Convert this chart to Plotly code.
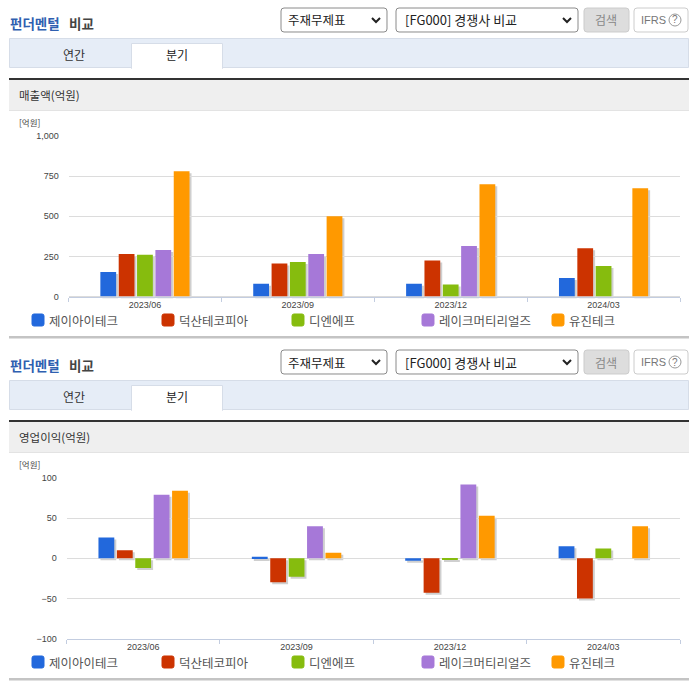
import plotly.graph_objects as go

W = 696
H = 684

quarters = ['2023/06', '2023/09', '2023/12', '2024/03']
companies = ['제이아이테크', '덕산테코피아', '디엔에프', '레이크머티리얼즈', '유진테크']
colors = ['#2268dc', '#cc3300', '#86bc0e', '#a678d8', '#ff9900']

sales_jai = [153, 80, 80, 115]
sales_duksan = [265, 205, 225, 300]
sales_dnf = [260, 215, 75, 190]
sales_lake = [290, 265, 315, None]
sales_eugene = [780, 500, 700, 675]

profit_jai = [26, 2, -3, 15]
profit_duksan = [10, -30, -43, -50]
profit_dnf = [-12, -23, -2, 12]
profit_lake = [79, 40, 92, None]
profit_eugene = [84, 7, 53, 40]

sales = [sales_jai, sales_duksan, sales_dnf, sales_lake, sales_eugene]
profit = [profit_jai, profit_duksan, profit_dnf, profit_lake, profit_eugene]

sales_ticks = [0, 250, 500, 750, 1000]
profit_ticks = [-100, -50, 0, 50, 100]

KR = 'Noto Sans CJK KR'
TICK = 'Liberation Sans'
SHADOW = '#cfcfcf'


def px(x):
    return x / W


def py(y):
    return 1 - y / H


fig = go.Figure()
shapes = []
notes = []


def box(x0, y0, x1, y1, fill, line=None, lw=1, layer='below'):
    shapes.append(dict(type='rect', xref='paper', yref='paper', x0=px(x0), x1=px(x1), y0=py(y0), y1=py(y1),
                       fillcolor=fill, line=dict(color=line, width=lw if line else 0), layer=layer))


def rounded(x0, y0, x1, y1, r, fill, line=None):
    pts = [('M', x0 + r, y0), ('L', x1 - r, y0), ('Q', x1, y0), ('', x1, y0 + r), ('L', x1, y1 - r), ('Q', x1, y1),
           ('', x1 - r, y1), ('L', x0 + r, y1), ('Q', x0, y1), ('', x0, y1 - r), ('L', x0, y0 + r), ('Q', x0, y0),
           ('', x0 + r, y0)]
    path = ' '.join(f'{c} {px(a):.5f} {py(b):.5f}' for c, a, b in pts) + ' Z'
    shapes.append(dict(type='path', xref='paper', yref='paper', path=path, fillcolor=fill,
                       line=dict(color=line or fill, width=1), layer='above'))


def text(x, y, s, size=12, color='#333333', anchor='left', family=KR):
    notes.append(dict(x=px(x), y=py(y), xref='paper', yref='paper', text=s, showarrow=False, xanchor=anchor,
                      yanchor='middle', font=dict(family=family, size=size, color=color)))


def chevron(x, y):
    path = f'M {px(x - 4):.5f} {py(y - 2):.5f} L {px(x):.5f} {py(y + 2):.5f} L {px(x + 4):.5f} {py(y - 2):.5f}'
    shapes.append(dict(type='path', xref='paper', yref='paper', path=path,
                       line=dict(color='#222222', width=2), layer='above'))


def panel(dy, label):
    text(8, 23 + dy, '<b>펀더멘털</b>', size=13.5, color='#2f5fb0')
    text(67, 23 + dy, '<b>비교</b>', size=13.5, color='#444444')
    rounded(281, 8 + dy, 387, 32 + dy, 3, '#ffffff', '#8a8a8a')
    text(286, 20 + dy, '주재무제표', size=12.5, color='#222222')
    chevron(376, 20 + dy)
    rounded(396, 8 + dy, 578, 32 + dy, 3, '#ffffff', '#8a8a8a')
    text(403, 20 + dy, '[FG000] 경쟁사 비교', size=13, color='#222222')
    chevron(567, 20 + dy)
    rounded(584, 8 + dy, 629, 32 + dy, 3, '#dddddd', '#cccccc')
    text(606, 20 + dy, '검색', size=12, color='#888888', anchor='center')
    rounded(634, 8 + dy, 688, 32 + dy, 3, '#ffffff', '#cccccc')
    text(639, 20 + dy, 'IFRS', size=11, color='#777777', family=TICK)
    text(675, 20 + dy, '?', size=10, color='#777777', anchor='center', family=TICK)
    shapes.append(dict(type='circle', xref='paper', yref='paper', x0=px(669), x1=px(681), y0=py(26 + dy),
                       y1=py(14 + dy), line=dict(color='#999999', width=1), layer='above'))

    box(9.5, 38.5 + dy, 688.5, 67.5 + dy, '#e6edf7', '#d6dde8')
    box(131.5, 43.5 + dy, 222.5, 68.5 + dy, '#ffffff', '#d6dde8')
    box(132, 66 + dy, 222, 69 + dy, '#ffffff')
    text(74, 54 + dy, '연간', size=12, anchor='center')
    text(177, 55 + dy, '분기', size=12, anchor='center', color='#222222')

    box(9, 80 + dy, 689, 110 + dy, '#efefef', None)
    box(9, 78 + dy, 689, 80 + dy, '#333333', None)
    box(9, 110 + dy, 689, 111 + dy, '#e3e3e3', None)
    text(17, 95 + dy, label, size=11.5)
    text(17, 122 + dy, '[억원]', size=8.5, color='#444444')

    for i, name in enumerate(companies):
        left = 32 + 130 * i
        rounded(left, 314 + dy, left + 12, 326 + dy, 2, colors[i])
        text(left + 15, 320 + dy, name, size=12.5, color='#555555')
    box(9, 336 + dy, 689, 338.5 + dy, '#c4c4c4', None)


def chart(values, ticks, n, x0, x1, top, bottom, rng):
    """n is the axis number of the shadow pair, n + 1 holds the real bars and the axes."""
    for offset, suffix in ((2, n), (0, n + 1)):
        xname = 'x' if suffix == 1 else f'x{suffix}'
        yname = 'y' if suffix == 1 else f'y{suffix}'
        for i, name in enumerate(companies):
            fig.add_bar(x=quarters, y=values[i], name=name, xaxis=xname, yaxis=yname, showlegend=False,
                        offsetgroup=str(i), marker=dict(color=SHADOW if offset else colors[i], line_width=0))
        shadow = offset > 0
        fig.layout[f'xaxis{suffix}'] = dict(
            domain=[px(x0 + offset), px(x1 + offset)], type='category', categoryorder='array',
            categoryarray=quarters, anchor=yname, range=[-0.5, 3.5], visible=not shadow,
            showgrid=False, zeroline=False, showline=True, linecolor='#c3cde0', linewidth=1,
            ticks='outside', ticklen=4, tickcolor='#c3cde0', tickson='boundaries',
            tickfont=dict(family=TICK, size=9, color='#444444'), fixedrange=True)
        fig.layout[f'yaxis{suffix}'] = dict(
            domain=[py(bottom + offset), py(top + offset)], range=rng, anchor=xname, visible=not shadow,
            tickvals=ticks, tickformat=',d', showgrid=True, gridcolor='#dcdcdc', gridwidth=1,
            zeroline=True, zerolinecolor='#dcdcdc', zerolinewidth=1, showline=False,
            ticks='outside', ticklen=7, tickcolor='rgba(0,0,0,0)',
            tickfont=dict(family=TICK, size=9, color='#444444'), fixedrange=True)


chart(sales, sales_ticks, 1, 68.5, 680, 136, 296.5, [0, 1000])
chart(profit, profit_ticks, 3, 66.5, 680, 478, 638.5, [-100, 100])
panel(0, '매출액(억원)')
panel(342, '영업이익(억원)')

fig.update_layout(width=W, height=H, margin=dict(l=0, r=0, t=0, b=0, autoexpand=False), paper_bgcolor='#ffffff',
                  plot_bgcolor='rgba(0,0,0,0)', barmode='group', bargap=0.40, bargroupgap=0.14,
                  shapes=shapes, annotations=notes, showlegend=False)

fig.write_html("out.html", post_script="document.body.style.margin='0';", config={'displayModeBar': False})
